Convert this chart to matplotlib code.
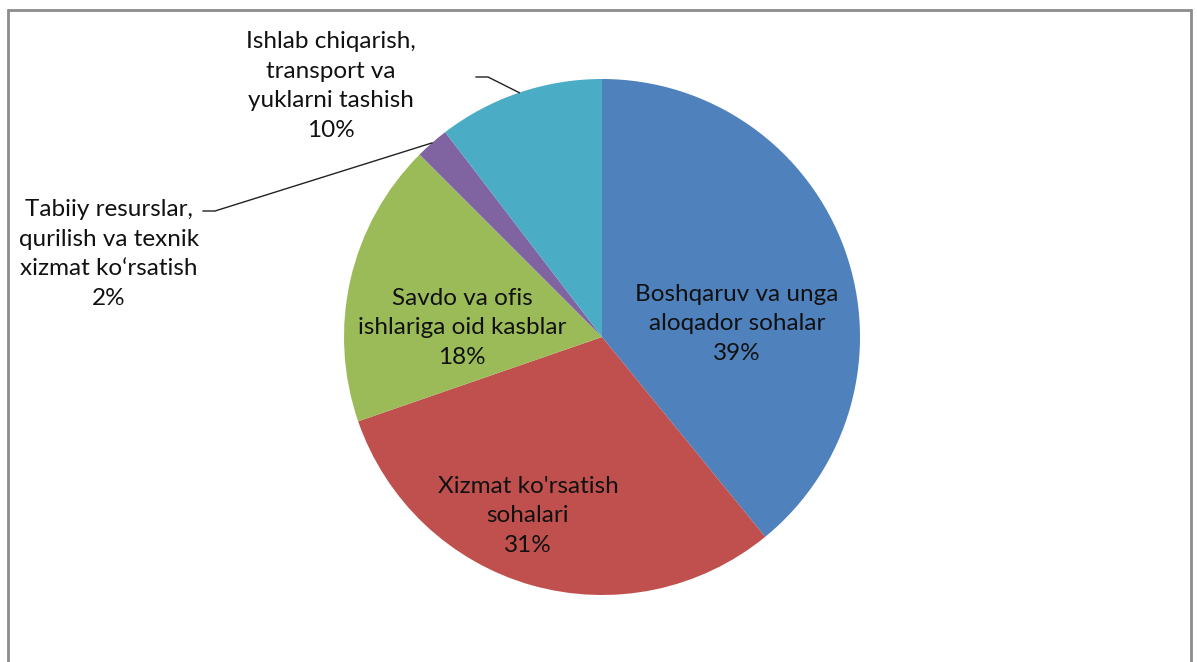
import matplotlib.pyplot as plt
import numpy as np
from matplotlib.patches import Rectangle

# Data (shares, clockwise from 12 o'clock)
categories = [
    'Boshqaruv va unga\naloqador sohalar',
    "Xizmat ko'rsatish\nsohalari",
    'Savdo va ofis\nishlariga oid kasblar',
    'Tabiiy resurslar,\nqurilish va texnik\nxizmat ko\u2018rsatish',
    'Ishlab chiqarish,\ntransport va\nyuklarni tashish',
]
shares = [39.1, 30.6, 17.8, 2.1, 10.4]
colors = ['#4F81BD', '#C0504D', '#9BBB59', '#8064A2', '#4BACC6']

W, H = 1197, 662
fig = plt.figure(figsize=(W / 100, H / 100), dpi=100)
ax = fig.add_axes([0, 0, 1, 1])

# chart frame (bottom edge is cut off in the original)
ax.add_patch(Rectangle((7.5, -20), 1183, H - 9.5 + 20, fill=False,
                       edgecolor='#8c8c8c', linewidth=2))

cx, cy, r = 602, H - 337, 258
wedges, _ = ax.pie(shares, colors=colors, startangle=90, counterclock=False,
                   center=(cx, cy), radius=r, frame=True,
                   wedgeprops=dict(linewidth=0))
ax.set_xlim(0, W)
ax.set_ylim(0, H)
ax.set_aspect('equal')
ax.axis('off')

total = sum(shares)
labels = [f'{c}\n{round(s / total * 100):.0f}%' for c, s in zip(categories, shares)]

font = dict(family='Lato', fontsize=17.5, color='#111111', ha='center', va='center',
            linespacing=1.5)

# labels inside the big slices
inside_pos = [(737, 324), (528, 516), (462, 328)]
for lab, (x, y) in zip(labels[:3], inside_pos):
    ax.text(x, H - y, lab, **font)

# outside labels with leader lines
outside = [
    (3, (109, 254), (203, 211), (215, 211)),
    (4, (331, 86), (476, 77), (488, 77)),
]
for idx, (tx, ty), (lx0, ly0), (lx1, ly1) in outside:
    ax.text(tx, H - ty, labels[idx], **font)
    w = wedges[idx]
    mid = np.deg2rad((w.theta1 + w.theta2) / 2)
    ex, ey = cx + r * np.cos(mid), cy + r * np.sin(mid)
    ax.plot([lx0, lx1, ex], [H - ly0, H - ly1, ey], color='#222222', linewidth=1)

fig.savefig('out.png', dpi=100, facecolor='white')
